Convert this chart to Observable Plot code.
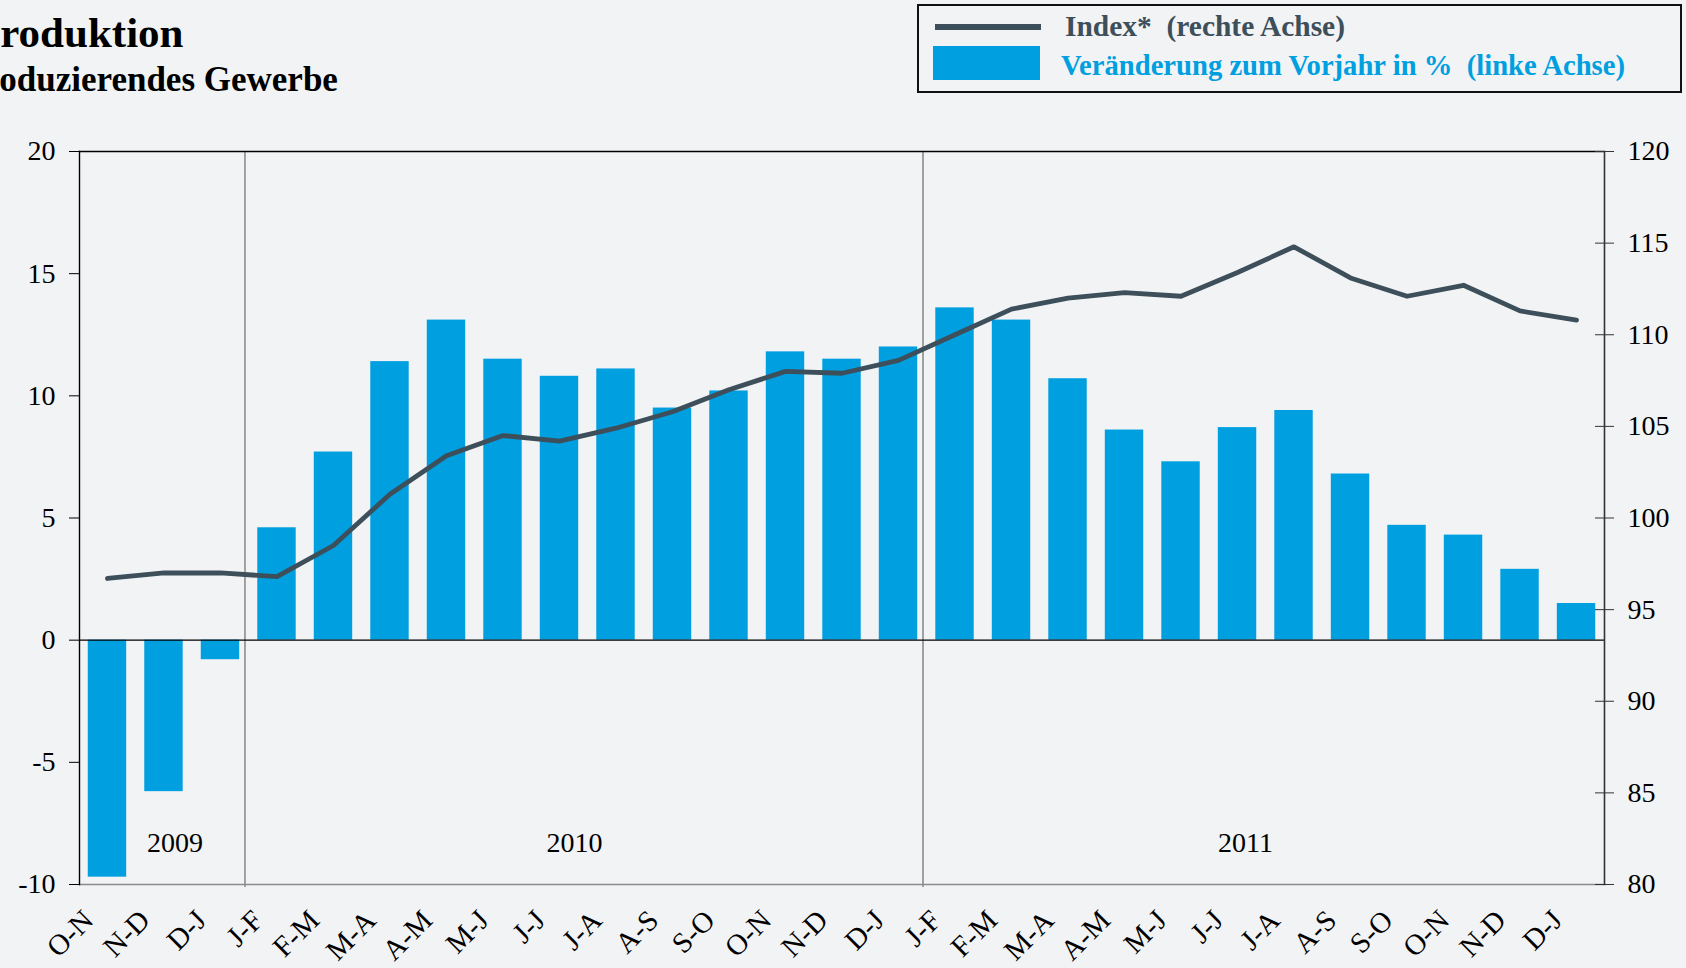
<!DOCTYPE html>
<html>
<head>
<meta charset="utf-8">
<script src="https://cdn.jsdelivr.net/npm/d3@7"></script>
<script src="https://cdn.jsdelivr.net/npm/@observablehq/plot@0.6"></script>
<style>
  html, body { margin: 0; padding: 0; background: #f2f3f5; }
  #wrap { width: 1686px; height: 968px; overflow: hidden; position: relative; }
  svg { display: block; }
</style>
</head>
<body>
<div id="wrap"></div>
<script>
// ---- data ----
const periods = ["O-N","N-D","D-J","J-F","F-M","M-A","A-M","M-J","J-J","J-A","A-S","S-O","O-N","N-D","D-J","J-F","F-M","M-A","A-M","M-J","J-J","J-A","A-S","S-O","O-N","N-D","D-J"];
const periodYears = [2009,2009,2009,2010,2010,2010,2010,2010,2010,2010,2010,2010,2010,2010,2010,2011,2011,2011,2011,2011,2011,2011,2011,2011,2011,2011,2011];
const changePct = [-9.7,-6.2,-0.8,4.6,7.7,11.4,13.1,11.5,10.8,11.1,9.5,10.2,11.8,11.5,12.0,13.6,13.1,10.7,8.6,7.3,8.7,9.4,6.8,4.7,4.3,2.9,1.5];
const indexValues = [96.7,97.0,97.0,96.8,98.5,101.3,103.4,104.5,104.2,104.9,105.8,107.0,108.0,107.9,108.6,110.0,111.4,112.0,112.3,112.1,113.4,114.8,113.1,112.1,112.7,111.3,110.8];
const leftTicks = [-10,-5,0,5,10,15,20];
const rightTicks = [80,85,90,95,100,105,110,115,120];
const leftDomain = [-10, 20];
const rightDomain = [80, 120];
const yearLabels = ["2009","2010","2011"];
const title = "Produktion";
const subtitle = "Produzierendes Gewerbe";
const legendLine = "Index*  (rechte Achse)";
const legendBar = "Veränderung zum Vorjahr in %  (linke Achse)";

// ---- derived ----
const keys = periods.map((p, i) => periodYears[i] + "-" + p);
const data = periods.map((p, i) => ({key: keys[i], label: p, chg: changePct[i], idx: indexValues[i]}));
// map right-axis values onto the left-axis scale
const toLeft = v => (v - rightDomain[0]) / (rightDomain[1] - rightDomain[0]) * (leftDomain[1] - leftDomain[0]) + leftDomain[0];
const toRight = y => (y - leftDomain[0]) / (leftDomain[1] - leftDomain[0]) * (rightDomain[1] - rightDomain[0]) + rightDomain[0];
const labelOf = Object.fromEntries(keys.map((k, i) => [k, periods[i]]));

const FONT = "'Liberation Serif', 'Times New Roman', serif";
const BLUE = "#009fe0";
const SLATE = "#3d4f5a";

// ---- header (title + legend) ----
const W = 1686;
const header = d3.create("svg").attr("width", W).attr("height", 100).style("font-family", FONT);
header.append("text").attr("x", -26).attr("y", 47).attr("font-size", 43).attr("font-weight", "bold").attr("fill", "#000").text(title);
header.append("text").attr("x", -37).attr("y", 91).attr("font-size", 35).attr("font-weight", "bold").attr("fill", "#000").text(subtitle);
const lg = header.append("g");
lg.append("rect").attr("x", 918).attr("y", 5).attr("width", 763).attr("height", 87).attr("fill", "none").attr("stroke", "#111").attr("stroke-width", 2);
lg.append("line").attr("x1", 935).attr("x2", 1041).attr("y1", 27).attr("y2", 27).attr("stroke", SLATE).attr("stroke-width", 6);
lg.append("rect").attr("x", 933).attr("y", 46).attr("width", 107).attr("height", 34).attr("fill", BLUE);
lg.append("text").attr("x", 1065).attr("y", 36).attr("font-size", 29).attr("font-weight", "bold").attr("fill", SLATE)
  .attr("textLength", 280).attr("lengthAdjust", "spacingAndGlyphs").style("white-space", "pre").text(legendLine);
lg.append("text").attr("x", 1061).attr("y", 75).attr("font-size", 29).attr("font-weight", "bold").attr("fill", BLUE)
  .attr("textLength", 564).attr("lengthAdjust", "spacingAndGlyphs").style("white-space", "pre").text(legendBar);

// ---- chart ----
const yearAnchors = [
  {key: keys[1], text: yearLabels[0], dx: 11},
  {key: keys[8], text: yearLabels[1], dx: 15},
  {key: keys[20], text: yearLabels[2], dx: 8}
];

const chart = Plot.plot({
  width: W,
  height: 868,
  marginLeft: 79,
  marginRight: 82,
  marginTop: 51,
  marginBottom: 84,
  style: {background: "transparent", fontFamily: FONT, color: "#000", overflow: "visible"},
  x: {type: "band", domain: keys, paddingInner: 0.32, paddingOuter: 0.155, round: false, axis: null, label: null},
  y: {domain: leftDomain, axis: null, label: null},
  marks: [
    Plot.barY(data, {x: "key", y: "chg", fill: BLUE}),
    // separators between years
    Plot.ruleX([keys[3], keys[15]], {stroke: "#8c8c8c", strokeWidth: 1.6, dx: -32, insetBottom: -3}),
    Plot.ruleY([0], {stroke: "#000", strokeWidth: 1.2}),
    Plot.ruleY([leftDomain[1]], {stroke: "#000", strokeWidth: 1.4}),
    Plot.ruleY([leftDomain[0]], {stroke: "#8a8a8a", strokeWidth: 1.6}),
    Plot.frame({anchor: "left", stroke: "#000", strokeWidth: 1.4}),
    Plot.frame({anchor: "right", stroke: "#333", strokeWidth: 1.6}),
    Plot.lineY(data, {x: "key", y: d => toLeft(d.idx), stroke: SLATE, strokeWidth: 4.8, strokeLinejoin: "round", strokeLinecap: "round"}),
    // left axis
    Plot.axisY(leftTicks, {anchor: "left", label: null, tickSize: 10, tickPadding: 14, fontSize: 28, stroke: "#000", fill: "#000", tickFormat: d => String(d)}),
    // right axis (index)
    Plot.axisY(rightTicks.map(toLeft), {anchor: "right", label: null, tickSize: 19, dx: -10, tickPadding: 14, fontSize: 28, stroke: "#333", fill: "#000", tickFormat: d => String(Math.round(toRight(d)))}),
    // x axis
    Plot.axisX({anchor: "bottom", label: null, tickSize: 0, tickRotate: -45, tickPadding: 31, dx: -19, fontSize: 29, fill: "#000", tickFormat: k => labelOf[k]}),
    // year labels
    ...yearAnchors.map(a => Plot.text([a], {x: "key", text: "text", frameAnchor: "bottom", lineAnchor: "middle", dy: -41, dx: a.dx, fontSize: 28, fill: "#000"}))
  ]
});

const wrap = document.getElementById("wrap");
wrap.appendChild(header.node());
wrap.appendChild(chart);
</script>
</body>
</html>
